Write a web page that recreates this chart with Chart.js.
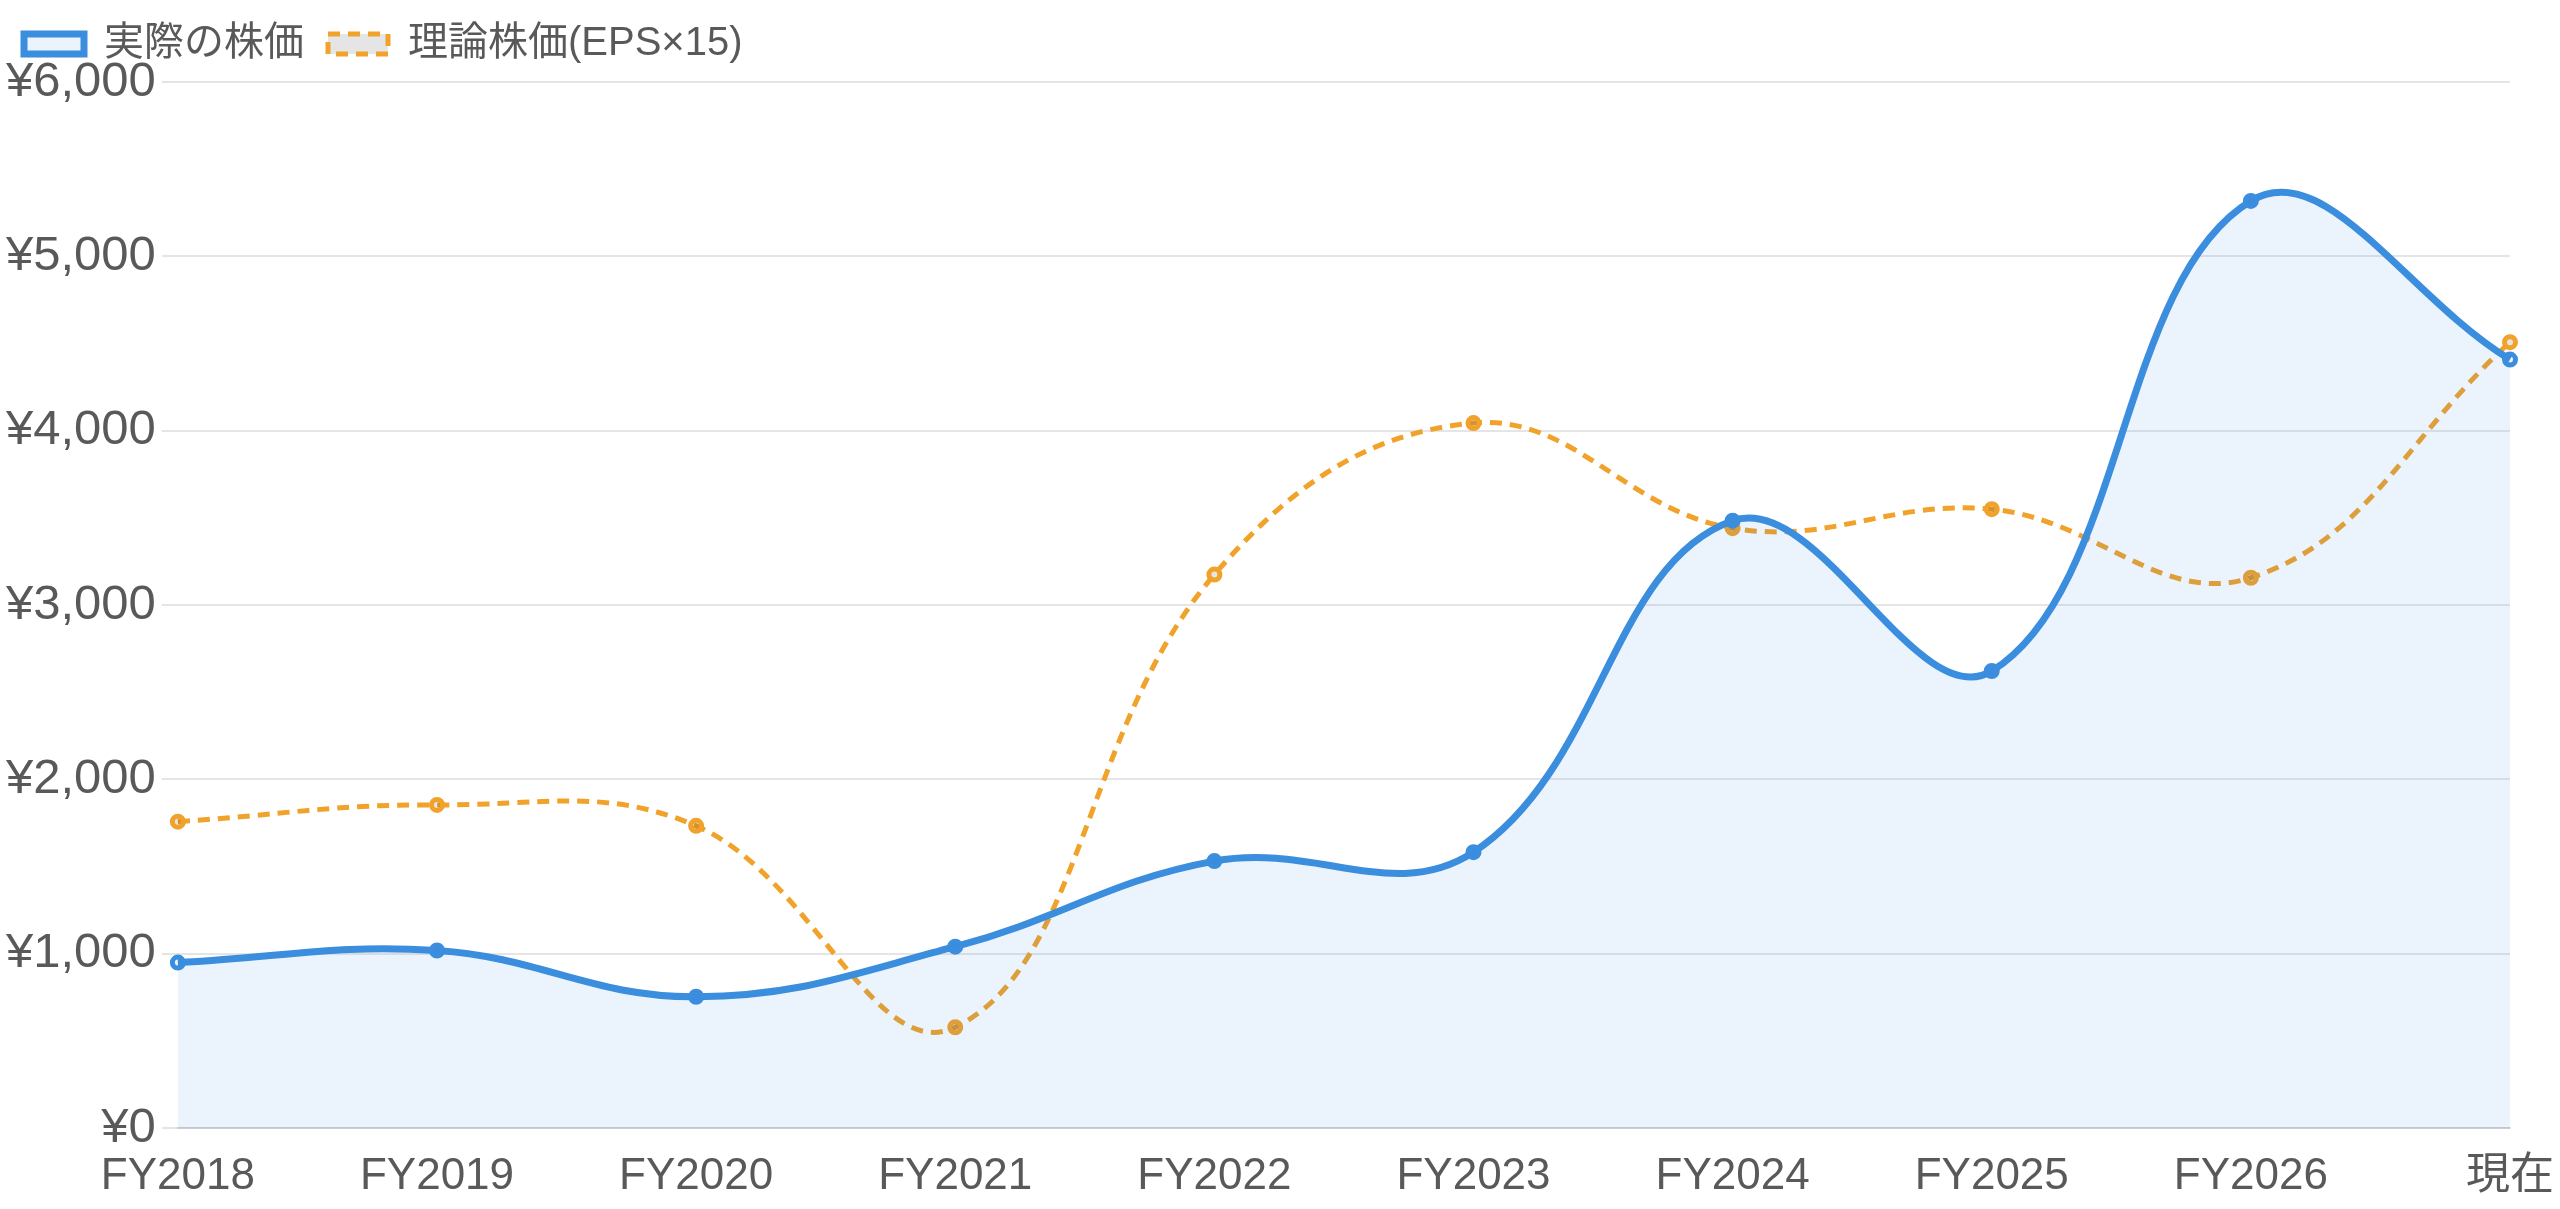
<!DOCTYPE html>
<html lang="ja">
<head>
<meta charset="utf-8">
<title>株価と理論株価</title>
<script src="https://cdn.jsdelivr.net/npm/chart.js@4.4.1/dist/chart.umd.min.js"></script>
<style>
  html, body { margin: 0; padding: 0; background: #fff; }
  #wrap { width: 2560px; height: 1209px; }
</style>
</head>
<body>
<div id="wrap"><canvas id="chart" width="2560" height="1209"></canvas></div>
<script>
// data
const labels = ["FY2018", "FY2019", "FY2020", "FY2021", "FY2022", "FY2023", "FY2024", "FY2025", "FY2026", "現在"];
const actualPrice = [950, 1019, 754, 1041, 1532, 1583, 3484, 2622, 5318, 4408];
const theoryPrice = [1758, 1854, 1734, 579, 3175, 4044, 3441, 3550, 3157, 4508];
const yTicks = [0, 1000, 2000, 3000, 4000, 5000, 6000];

const BLUE = "rgb(59, 141, 222)";
const ORANGE = "rgb(240, 162, 42)";
const FONT = "'Liberation Sans', Arial, 'Noto Sans CJK JP', sans-serif";
const TEXT = "#595959";

// legend adds a fixed 10px under the items; give it a bit more room
const legendSpace = {
  id: "legendSpace",
  afterInit(chart) {
    const fit = chart.legend.fit;
    chart.legend.fit = function () {
      fit.call(this);
      this.height += 8;
    };
  },
};

const ctx = document.getElementById("chart").getContext("2d");
new Chart(ctx, {
  type: "line",
  data: {
    labels: labels,
    datasets: [
      {
        label: "実際の株価",
        data: actualPrice,
        borderColor: BLUE,
        backgroundColor: "rgba(59, 141, 222, 0.1)",
        borderWidth: 7,
        fill: true,
        tension: 0.4,
        pointRadius: 5.5,
        pointBorderWidth: 5,
        pointBorderColor: BLUE,
      },
      {
        label: "理論株価(EPS×15)",
        data: theoryPrice,
        borderColor: ORANGE,
        backgroundColor: "rgba(0, 0, 0, 0.1)",
        borderWidth: 5,
        borderDash: [12, 8],
        fill: false,
        tension: 0.4,
        pointRadius: 5.5,
        pointBorderWidth: 5,
        pointBorderColor: ORANGE,
      },
    ],
  },
  plugins: [legendSpace],
  options: {
    responsive: false,
    devicePixelRatio: 1,
    animation: false,
    plugins: {
      legend: {
        position: "top",
        align: "start",
        labels: {
          boxWidth: 60,
          boxHeight: 20,
          padding: 24,
          color: TEXT,
          font: { family: FONT, size: 40 },
        },
      },
      tooltip: { enabled: false },
    },
    scales: {
      x: {
        grid: { display: false, tickLength: 16 },
        border: { color: "rgba(0,0,0,0.1)", width: 2 },
        ticks: {
          color: TEXT,
          font: { family: FONT, size: 44 },
          padding: 6,
          maxRotation: 0,
        },
      },
      y: {
        min: yTicks[0],
        max: yTicks[yTicks.length - 1],
        afterBuildTicks: (axis) => {
          axis.ticks = yTicks.map((v) => ({ value: v }));
        },
        grid: { color: "rgba(0,0,0,0.1)", lineWidth: 2, tickLength: 16 },
        border: { display: false },
        ticks: {
          color: TEXT,
          font: { family: FONT, size: 49 },
          padding: 6,
          callback: (v) => "¥" + Number(v).toLocaleString("en-US"),
        },
      },
    },
  },
});
</script>
</body>
</html>
